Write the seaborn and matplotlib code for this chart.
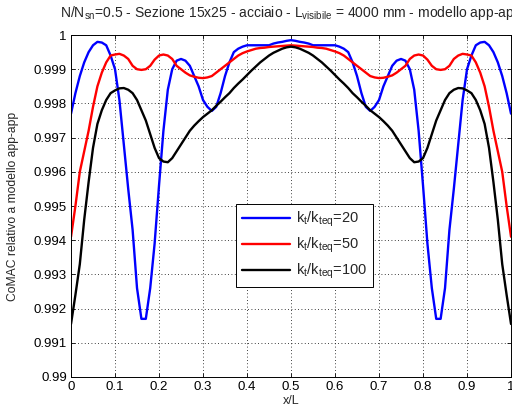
import matplotlib
matplotlib.use("Agg")
import matplotlib.pyplot as plt
import numpy as np
import pandas as pd
import seaborn as sns
from matplotlib.ticker import FuncFormatter

x_over_L = [round(0.01 * i, 2) for i in range(101)]

k20 = [0.9977, 0.9983, 0.9988, 0.9992, 0.9995, 0.9997, 0.9998, 0.99978, 0.9997, 0.9994,
       0.9990, 0.9981, 0.9968, 0.9955, 0.9943, 0.9926, 0.9917, 0.9917, 0.9926, 0.9939,
       0.9956, 0.9972, 0.9984, 0.9990, 0.99925, 0.9993, 0.99925, 0.9991, 0.9988, 0.9985,
       0.9981, 0.9979, 0.99778, 0.9979, 0.9983, 0.9988, 0.9992, 0.9995, 0.9996, 0.99966,
       0.9997, 0.9997, 0.9997, 0.9997, 0.9997, 0.9997, 0.99975, 0.99978, 0.9998, 0.99983,
       0.99985, 0.99983, 0.9998, 0.99978, 0.99975, 0.9997, 0.9997, 0.9997, 0.9997, 0.9997,
       0.9997, 0.99966, 0.9996, 0.9995, 0.9992, 0.9988, 0.9983, 0.9979, 0.99778, 0.9979,
       0.9981, 0.9985, 0.9988, 0.9991, 0.99925, 0.9993, 0.99925, 0.9990, 0.9984, 0.9972,
       0.9956, 0.9939, 0.9926, 0.9917, 0.9917, 0.9926, 0.9943, 0.9955, 0.9968, 0.9981,
       0.9990, 0.9994, 0.9997, 0.99978, 0.9998, 0.9997, 0.9995, 0.9992, 0.9988, 0.9983,
       0.9977]

k50 = [0.9941, 0.9950, 0.9960, 0.9966, 0.9972, 0.9979, 0.9985, 0.9989, 0.9992, 0.9994,
       0.99943, 0.99945, 0.9994, 0.9993, 0.9991, 0.9990, 0.99898, 0.9990, 0.9991, 0.99928,
       0.9994, 0.99943, 0.9994, 0.9993, 0.9991, 0.9990, 0.9989, 0.99882, 0.99878, 0.99875,
       0.99874, 0.99876, 0.9988, 0.9989, 0.9990, 0.9991, 0.9992, 0.9993, 0.9994, 0.99947,
       0.99952, 0.99956, 0.9996, 0.99962, 0.99963, 0.99965, 0.99966, 0.99967, 0.99968, 0.99969,
       0.9997, 0.99969, 0.99968, 0.99967, 0.99966, 0.99965, 0.99963, 0.99962, 0.9996, 0.99956,
       0.99952, 0.99947, 0.9994, 0.9993, 0.9992, 0.9991, 0.9990, 0.9989, 0.9988, 0.99876,
       0.99874, 0.99875, 0.99878, 0.99882, 0.9989, 0.9990, 0.9991, 0.9993, 0.9994, 0.99943,
       0.9994, 0.99928, 0.9991, 0.9990, 0.99898, 0.9990, 0.9991, 0.9993, 0.9994, 0.99945,
       0.99943, 0.9994, 0.9992, 0.9989, 0.9985, 0.9979, 0.9972, 0.9966, 0.9960, 0.9950,
       0.9941]

k100 = [0.99155, 0.9924, 0.9933, 0.9946, 0.9957, 0.9967, 0.9974, 0.9978, 0.9981, 0.9983,
        0.99838, 0.99844, 0.99845, 0.9984, 0.9983, 0.9981, 0.9978, 0.9975, 0.9971, 0.9967,
        0.9964, 0.9963, 0.99628, 0.9964, 0.9966, 0.9968, 0.9970, 0.9972, 0.99735, 0.99748,
        0.9976, 0.9977, 0.9978, 0.99793, 0.99805, 0.99818, 0.9983, 0.99845, 0.99858, 0.9987,
        0.99883, 0.99896, 0.99908, 0.9992, 0.9993, 0.9994, 0.99948, 0.99954, 0.9996, 0.99964,
        0.99966, 0.99964, 0.9996, 0.99954, 0.99948, 0.9994, 0.9993, 0.9992, 0.99908, 0.99896,
        0.99883, 0.9987, 0.99858, 0.99845, 0.9983, 0.99818, 0.99805, 0.99793, 0.9978, 0.9977,
        0.9976, 0.99748, 0.99735, 0.9972, 0.9970, 0.9968, 0.9966, 0.9964, 0.99628, 0.9963,
        0.9964, 0.9967, 0.9971, 0.9975, 0.9978, 0.9981, 0.9983, 0.9984, 0.99845, 0.99844,
        0.99838, 0.9983, 0.9981, 0.9978, 0.9974, 0.9967, 0.9957, 0.9946, 0.9933, 0.9924,
        0.99155]

labels = ["$k_t/k_{teq}$=20", "$k_t/k_{teq}$=50", "$k_t/k_{teq}$=100"]
colors = ["#0000ff", "#ff0000", "#000000"]

df = pd.concat([
    pd.DataFrame({"x": x_over_L, "comac": vals, "serie": lab})
    for vals, lab in zip([k20, k50, k100], labels)
])

sns.set_theme(style="ticks")
plt.rcParams["font.family"] = ["Liberation Sans", "DejaVu Sans"]
plt.rcParams["mathtext.default"] = "regular"

fig = plt.figure(figsize=(5.12, 4.12), dpi=100)
ax = fig.add_axes([0.1387, 0.085, 0.8594, 0.830])
sns.lineplot(data=df, x="x", y="comac", hue="serie", palette=colors,
             linewidth=1.7, ax=ax, sort=False, estimator=None)

ax.set_xlim(0, 1)
ax.set_ylim(0.99, 1.0)
ax.set_xticks(np.arange(0, 1.01, 0.1))
ax.set_yticks(np.arange(0.99, 1.0001, 0.001))
ax.xaxis.set_major_formatter(FuncFormatter(lambda v, p: f"{v:g}"))
ax.yaxis.set_major_formatter(FuncFormatter(lambda v, p: f"{round(v, 3):g}"))
ax.tick_params(direction="in", top=True, right=True, labelsize=9.5, length=3,
               width=0.6, colors="black", pad=3)
ax.grid(True, linestyle=(0, (1, 3)), color="black", linewidth=0.6)
for s in ax.spines.values():
    s.set_linewidth(0.7)
    s.set_color("black")

ax.set_xlabel("x/L", fontsize=9)
ax.set_ylabel("CoMAC relativo a modello app-app", fontsize=8.7)
ax.xaxis.set_label_coords(0.5, -0.053)
ax.yaxis.set_label_coords(-0.118, 0.5)
fig.text(291 / 512, 1 - 13 / 412,
         "N/N$_{sn}$=0.5 - Sezione 15x25 - acciaio - L$_{visibile}$ = 4000 mm - modello app-app",
         fontsize=10, ha="center", va="center")

leg = ax.legend(loc="lower left", bbox_to_anchor=(0.375, 0.263), fontsize=10.5,
                frameon=True, fancybox=False, framealpha=1, edgecolor="black",
                handlelength=3.3, handletextpad=0.4, borderpad=0.4, labelspacing=0.45,
                borderaxespad=0, title=None)
leg.get_frame().set_linewidth(0.7)

fig.savefig("out.png", dpi=100)
